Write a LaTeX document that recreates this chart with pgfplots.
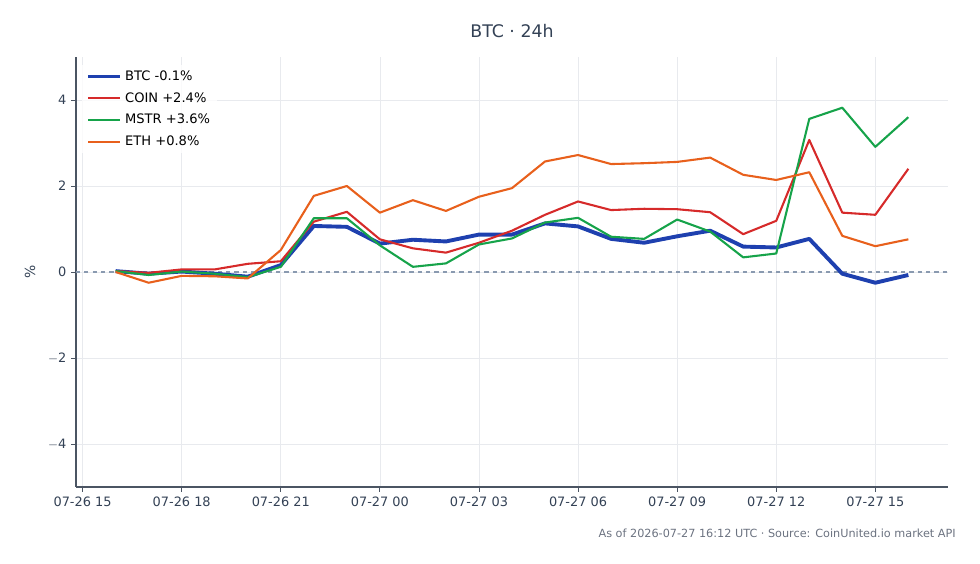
\documentclass[border=0pt]{standalone}
\usepackage{pgfplots}
\pgfplotsset{compat=1.18}
\usepackage{fontspec}
\setmainfont{DejaVu Sans}
\definecolor{cBTC}{HTML}{1E40AF}
\definecolor{cCOIN}{HTML}{D62A2A}
\definecolor{cMSTR}{HTML}{16A34A}
\definecolor{cETH}{HTML}{E8601C}
\definecolor{cText}{HTML}{334155}
\definecolor{cFoot}{HTML}{6B7280}
\definecolor{cGrid}{HTML}{E8EAEE}
\definecolor{cSpine}{HTML}{4B5563}
\definecolor{cZero}{HTML}{8A9AB0}
\begin{document}
\begin{tikzpicture}[x=0.72pt,y=0.72pt]
\useasboundingbox (0,0) rectangle (980,564);
\begin{axis}[
  at={(54.72pt,55.44pt)}, anchor=south west,
  scale only axis, width=627.84pt, height=309.6pt,
  xmin=14.8, xmax=41.2, ymin=-5, ymax=5,
  axis x line*=bottom, axis y line*=left,
  axis line style={cSpine, line width=0.8pt},
  xtick={15,18,21,24,27,30,33,36,39},
  xticklabels={07-26 15,07-26 18,07-26 21,07-27 00,07-27 03,07-27 06,07-27 09,07-27 12,07-27 15},
  ytick={-4,-2,0,2,4},
  yticklabels={$-$4,$-$2,0,2,4},
  tick align=outside, major tick length=3.5pt,
  tick style={cSpine, line width=0.6pt},
  ticklabel style={font=\fontsize{9.3}{10}\selectfont, text=cText},
  /pgf/number format/assume math mode=true,
  grid=major, major grid style={cGrid, line width=0.5pt},
  legend style={draw=none, fill=white, fill opacity=0.8, text opacity=1, at={(0.007,0.982)}, anchor=north west,
    font=\fontsize{9.4}{10}\selectfont, row sep=3.2pt, legend cell align=left},
  legend image code/.code={\draw[#1] (0pt,0pt) -- (23pt,0pt);},
  clip=false,
]
\addplot[cZero, dashed, line width=0.8pt, forget plot] coordinates {(14.8,0) (41.2,0)};
\addplot[cBTC, line width=2.8pt, line join=round] coordinates {
(16,0.02) (17,-0.04) (18,0.01) (19,-0.04) (20,-0.11) (21,0.16) (22,1.07) (23,1.05)
(24,0.66) (25,0.75) (26,0.71) (27,0.87) (28,0.87) (29,1.13) (30,1.06) (31,0.77)
(32,0.68) (33,0.83) (34,0.96) (35,0.59) (36,0.57) (37,0.77) (38,-0.04) (39,-0.25) (40,-0.07)};
\addlegendentry{BTC -0.1\%}
\addplot[cCOIN, line width=1.5pt, line join=round] coordinates {
(16,0.02) (17,-0.02) (18,0.06) (19,0.06) (20,0.19) (21,0.25) (22,1.17) (23,1.40)
(24,0.76) (25,0.55) (26,0.45) (27,0.68) (28,0.96) (29,1.33) (30,1.64) (31,1.44)
(32,1.47) (33,1.46) (34,1.39) (35,0.88) (36,1.19) (37,3.07) (38,1.38) (39,1.33) (40,2.40)};
\addlegendentry{COIN +2.4\%}
\addplot[cMSTR, line width=1.5pt, line join=round] coordinates {
(16,0.02) (17,-0.07) (18,0.01) (19,-0.04) (20,-0.12) (21,0.12) (22,1.25) (23,1.25)
(24,0.62) (25,0.12) (26,0.20) (27,0.64) (28,0.78) (29,1.15) (30,1.26) (31,0.82)
(32,0.77) (33,1.22) (34,0.94) (35,0.34) (36,0.43) (37,3.56) (38,3.82) (39,2.91) (40,3.60)};
\addlegendentry{MSTR +3.6\%}
\addplot[cETH, line width=1.5pt, line join=round] coordinates {
(16,0.00) (17,-0.25) (18,-0.09) (19,-0.10) (20,-0.15) (21,0.51) (22,1.77) (23,2.00)
(24,1.38) (25,1.67) (26,1.42) (27,1.75) (28,1.95) (29,2.57) (30,2.72) (31,2.51)
(32,2.53) (33,2.56) (34,2.66) (35,2.26) (36,2.14) (37,2.32) (38,0.84) (39,0.60) (40,0.76)};
\addlegendentry{ETH +0.8\%}
\end{axis}
\node[text=cText, font=\fontsize{12.5}{14}\selectfont] at (512,533) {BTC · 24h};
\node[text=cText, font=\fontsize{10}{12}\selectfont, rotate=90] at (30,292) {\%};
\node[text=cFoot, font=\fontsize{8.1}{9}\selectfont, anchor=east, inner sep=0pt] at (956,31) {As of 2026-07-27 16:12 UTC · Source: CoinUnited.io market API};
\end{tikzpicture}
\end{document}
